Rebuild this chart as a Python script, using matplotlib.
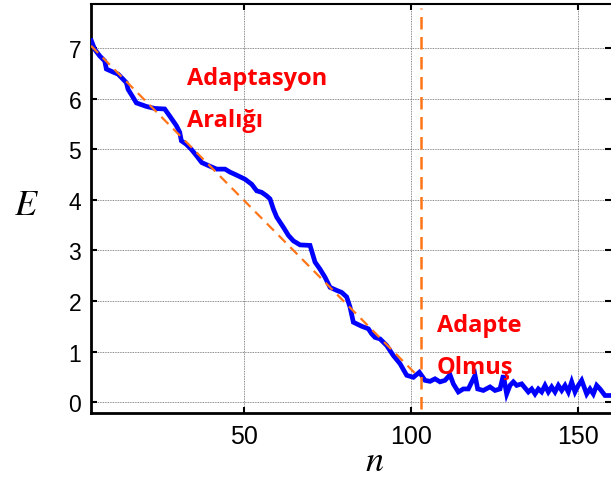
import numpy as np
import matplotlib
matplotlib.use('Agg')
import matplotlib.pyplot as plt

# error curve E(n) of the adaptive filter
n = [4.1, 5.1, 6.6, 8.1, 8.6, 10.6, 12.1, 13.6, 14.6, 15.1, 16.6, 17.6, 20.6, 23.1, 26.1,
     27.6, 29.6, 30.6, 31.1, 32.6, 34.1, 35.7, 37.2, 39.2, 41.7, 44.2, 45.7, 47.7, 50.2,
     52.2, 53.7, 55.2, 56.7, 57.7, 58.7, 59.7, 61.7, 63.2, 64.7, 66.7, 69.7, 71.2, 72.7,
     74.2, 75.7, 77.7, 79.2, 80.7, 81.7, 82.7, 85.2, 87.2, 88.2, 89.2, 90.7, 92.7, 94.7,
     96.7, 98.7, 100.7, 102.5, 104.2, 105.7, 107.2, 108.7, 110.2, 111.7, 112.7, 114.2,
     115.7, 117.2, 119.2, 120.0, 121.7, 123.7, 125.2, 126.7, 127.7, 128.7, 129.7, 130.7,
     131.7, 133.2, 135.2, 136.2, 137.2, 138.2, 139.2, 140.2, 141.2, 142.2, 143.2, 144.2,
     145.2, 146.2, 147.2, 148.2, 149.2, 150.2, 151.2, 152.7, 153.7, 154.7, 155.7, 156.7,
     158.2, 159.7]
E = [7.15, 6.98, 6.85, 6.75, 6.59, 6.53, 6.49, 6.39, 6.32, 6.19, 6.03, 5.92, 5.85, 5.81, 5.80,
     5.66, 5.47, 5.34, 5.17, 5.10, 5.00, 4.87, 4.74, 4.68, 4.61, 4.61, 4.55, 4.49, 4.41,
     4.31, 4.18, 4.15, 4.08, 4.02, 3.82, 3.66, 3.46, 3.30, 3.19, 3.11, 3.10, 2.77, 2.63,
     2.47, 2.27, 2.21, 2.17, 2.08, 1.88, 1.58, 1.50, 1.45, 1.35, 1.28, 1.25, 1.12, 0.92,
     0.76, 0.53, 0.49, 0.59, 0.43, 0.41, 0.46, 0.40, 0.43, 0.54, 0.36, 0.20,
     0.26, 0.26, 0.53, 0.26, 0.23, 0.30, 0.23, 0.26, 0.53, 0.16, 0.33, 0.40,
     0.33, 0.36, 0.20, 0.26, 0.16, 0.26, 0.20, 0.33, 0.20, 0.30, 0.20, 0.33,
     0.23, 0.33, 0.20, 0.40, 0.20, 0.33, 0.43, 0.16, 0.26, 0.16, 0.33, 0.26,
     0.13, 0.13]

# linear trend over the adaptation interval and the boundary line
trend_n = [4, 101.5]
trend_E = [7.05, 0.55]
boundary_n = 102.9
boundary_E = [-0.13, 7.8]

xticks = [50, 100, 150]
yticks = [0, 1, 2, 3, 4, 5, 6, 7]

plt.rcParams['mathtext.fontset'] = 'stix'

fig = plt.figure(figsize=(6.11, 4.85), dpi=100)
ax = fig.add_axes([0.149, 0.146, 0.851, 0.844])

ax.plot(n, E, color='#0000ff', lw=3.4, solid_joinstyle='miter', zorder=3)
ax.plot(trend_n, trend_E, color='#ff7518', lw=1.6, dashes=(4.5, 3), zorder=4)
ax.plot([boundary_n, boundary_n], boundary_E, color='#ff7518', lw=1.8, dashes=(5, 3), zorder=4)

ax.set_xlim(4, 160)
ax.set_ylim(-0.22, 7.88)
ax.set_xticks(xticks)
ax.set_yticks(yticks)
ax.grid(True, ls=(0, (1, 1)), color='#666666', lw=0.6)

ax.tick_params(direction='in', length=4, width=1.5, top=True, right=True)
ax.tick_params(axis='y', pad=7, labelsize=16.5)
ax.tick_params(axis='x', pad=8, labelsize=18)
for lbl in ax.get_xticklabels() + ax.get_yticklabels():
    lbl.set_family('Liberation Sans')

for s in ['left', 'bottom']:
    ax.spines[s].set_linewidth(2)
ax.spines['top'].set_linewidth(1.5)
ax.spines['right'].set_visible(False)

ax.set_ylabel('$E$', fontsize=26, rotation=0, va='center')
ax.yaxis.set_label_coords(-0.125, 0.51)
ax.set_xlabel('$n$', fontsize=26, va='center')
ax.xaxis.set_label_coords(0.546, -0.115)

txt = dict(color='#ff0000', fontsize=17, fontweight='bold', family='Open Sans')
ax.text(32.8, 6.29, 'Adaptasyon', **txt)
ax.text(32.8, 5.46, 'Aralığı', **txt)
ax.text(107.7, 1.41, 'Adapte', **txt)
ax.text(107.7, 0.57, 'Olmuş', **txt)

fig.savefig('out.png', dpi=100)
